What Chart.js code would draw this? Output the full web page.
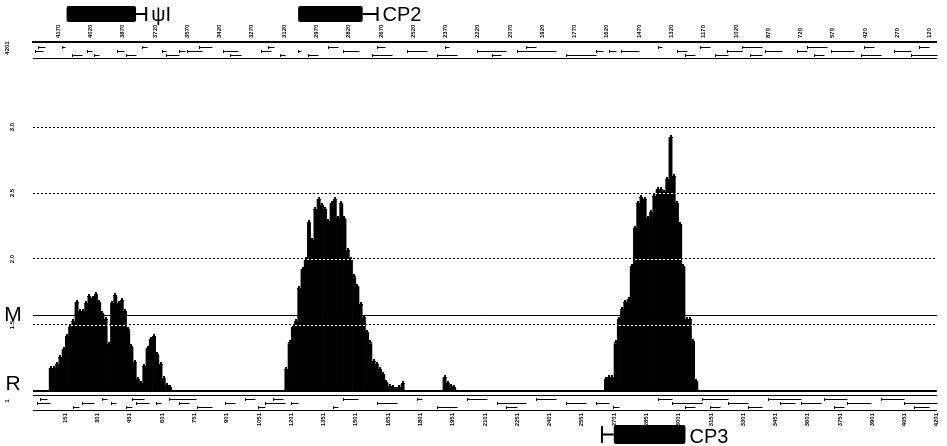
<!DOCTYPE html>
<html>
<head>
<meta charset="utf-8">
<script src="https://cdn.jsdelivr.net/npm/chart.js@4"></script>
<style>
  body { margin: 0; background: #fff; }
  #wrap { width: 947px; height: 446px; position: relative; }
</style>
</head>
<body>
<div id="wrap"><canvas id="myChart"></canvas></div>
<script>
// genome coordinates (nt) and bin size of the coverage histogram
const genomeStart = 1;
const genomeEnd = 4201;
const binSize = 15;

// coverage values per bin, one array per peak, with the bin where each peak starts
const peakStartBins = [5, 78, 127, 177];
const peakA = [1.17, 1.17, 1.20, 1.25, 1.31, 1.41, 1.48, 1.52, 1.67, 1.60, 1.60, 1.66, 1.71, 1.70, 1.73, 1.67,
    1.58, 1.54, 1.35, 1.66, 1.72, 1.66, 1.68, 1.60, 1.46, 1.33, 1.21, 1.08, 1.05, 1.18, 1.32, 1.39, 1.41,
    1.27, 1.20, 1.09, 1.04, 1.02];
const peakB = [1.16, 1.36, 1.48, 1.52, 1.77, 1.92, 1.99, 2.27, 2.14, 2.37, 2.45, 2.40, 2.37, 2.28, 2.42, 2.45,
    2.30, 2.42, 2.30, 2.06, 1.99, 1.86, 1.79, 1.65, 1.55, 1.44, 1.36, 1.22, 1.20, 1.16, 1.12, 1.06, 1.03,
    1.02, 1.01, 1.02, 1.05];
const peakC = [1.10, 1.05, 1.03, 1.02];
const peakD = [1.08, 1.10, 1.10, 1.36, 1.54, 1.61, 1.67, 1.69, 1.94, 2.23, 2.42, 2.46, 2.45, 2.30, 2.35, 2.47,
    2.52, 2.52, 2.50, 2.60, 2.92, 2.62, 2.42, 2.26, 1.94, 1.54, 1.54, 1.37, 1.07];

// reference levels
const gridLevels = [1.5, 2.0, 2.5, 3.0];
const gridLabels = ['1.5', '2.0', '2.5', '3.0'];
const levelM = 1.576;
const levelR = 1.0;

// tick labels: bottom strand numbering and the reverse numbering on top
const bottomTicks = [151, 301, 451, 601, 751, 901, 1051, 1201, 1351, 1501, 1651, 1801, 1951, 2101,
    2251, 2401, 2551, 2701, 2851, 3001, 3151, 3301, 3451, 3601, 3751, 3901, 4051, 4201];
const topTickLabels = ['4170', '4020', '3870', '3720', '3570', '3420', '3270', '3120', '2970', '2820',
    '2670', '2520', '2370', '2220', '2070', '1920', '1770', '1620', '1470', '1320', '1170', '1020',
    '870', '720', '570', '420', '270', '120'];

// open reading frames in the two strand tracks (start nt, end nt, row)
const topOrfStart = [10, 23, 138, 180, 254, 286, 392, 434, 508, 600, 618, 678, 715, 771, 886, 918, 1061, 1094,
    1149, 1232, 1278, 1371, 1440, 1578, 1601, 1740, 1878, 1915, 2063, 2132, 2248, 2294, 2478, 2617, 2677,
    2732, 2907, 2995, 3032, 3101, 3170, 3226, 3295, 3332, 3401, 3553, 3600, 3632, 3710, 3849, 3863, 4001,
    4080, 4117];
const topOrfEnd = [46, 55, 152, 231, 277, 309, 425, 480, 531, 618, 678, 706, 785, 831, 955, 969, 1108, 1121,
    1172, 1246, 1325, 1417, 1518, 1671, 1638, 1832, 1971, 1934, 2201, 2178, 2432, 2340, 2617, 2649, 2709,
    2815, 2926, 3041, 3078, 3147, 3230, 3295, 3387, 3387, 3480, 3600, 3692, 3678, 3816, 3941, 3909, 4080,
    4200, 4163];
const topOrfRow = [1, 0, 0, 2, 1, 2, 1, 2, 0, 1, 2, 1, 1, 0, 1, 2, 1, 0, 2, 1, 2, 0, 1, 2, 0, 1, 2, 0, 1, 2,
    1, 0, 2, 1, 1, 1, 0, 1, 2, 0, 2, 1, 0, 2, 1, 1, 0, 2, 1, 2, 0, 1, 2, 0];

const bottomOrfStart = [18, 32, 185, 231, 323, 365, 434, 462, 480, 572, 632, 678, 761, 895, 988, 1048, 1080,
    1117, 1200, 1394, 1440, 1601, 1786, 1878, 2017, 2155, 2201, 2340, 2478, 2617, 2695, 2907, 2972, 3032,
    3111, 3147, 3230, 3323, 3415, 3471, 3572, 3678, 3724, 3784, 3941, 4047, 4093];
const bottomOrfEnd = [78, 65, 217, 286, 346, 388, 462, 517, 540, 595, 757, 725, 831, 941, 1034, 1080, 1172,
    1163, 1232, 1417, 1509, 1694, 1809, 1971, 2109, 2294, 2248, 2432, 2571, 2677, 2723, 2972, 3111, 3078,
    3230, 3193, 3323, 3387, 3572, 3540, 3664, 3784, 3770, 3895, 4047, 4200, 4163];
const bottomOrfRow = [1, 0, 2, 1, 0, 1, 2, 0, 1, 1, 0, 1, 2, 1, 0, 2, 1, 0, 1, 2, 0, 1, 0, 2, 0, 1, 2, 0, 1,
    1, 2, 0, 1, 2, 0, 2, 1, 2, 0, 1, 1, 0, 2, 1, 0, 1, 2];

// gene annotations (box start/end, end cap, label, which track)
const geneNames = ['\u03C8I', 'CP2', 'CP3'];
const geneBoxStart = [157, 1233, 2700];
const geneBoxEnd = [480, 1533, 3033];
const geneCap = [527, 1602, 2645];
const geneSide = ['top', 'top', 'bottom'];

// build bar points from the peak arrays
const peaks = [peakA, peakB, peakC, peakD];
const coverage = [];
peaks.forEach(function (values, p) {
    values.forEach(function (v, k) {
        const bin = peakStartBins[p] + k;
        coverage.push({ x: genomeStart + bin * binSize + binSize / 2, y: v });
    });
});

const FONT = '"Liberation Sans", Arial, sans-serif';

// draws the strand tracks, reference lines, gene boxes and side labels
const decorations = {
    id: 'decorations',
    afterDatasetsDraw: function (chart) {
        const ctx = chart.ctx;
        const xs = chart.scales.x;
        const ys = chart.scales.y;
        const area = chart.chartArea;
        ctx.save();

        // small caps on top of each bar, like the original plot
        const meta = chart.getDatasetMeta(0);
        ctx.fillStyle = '#000';
        meta.data.forEach(function (bar) {
            ctx.fillRect(Math.round(bar.x) - 2, Math.round(bar.y) - 1, 4, 1);
            ctx.fillRect(Math.round(bar.x) - 1, Math.round(bar.y) - 3, 2, 2);
        });

        // white dots where the dotted grid crosses the bars
        ctx.strokeStyle = '#fff';
        ctx.lineWidth = 1;
        ctx.setLineDash([2, 2]);
        ctx.lineDashOffset = 2;
        gridLevels.forEach(function (v) {
            const y = Math.round(ys.getPixelForValue(v)) + 0.5;
            ctx.beginPath();
            ctx.moveTo(area.left, y);
            ctx.lineTo(area.right, y);
            ctx.stroke();
        });
        ctx.setLineDash([]);

        // M and R lines
        ctx.strokeStyle = '#000';
        const yM = Math.round(ys.getPixelForValue(levelM)) + 0.5;
        ctx.lineWidth = 1;
        ctx.beginPath();
        ctx.moveTo(area.left, yM);
        ctx.lineTo(area.right, yM);
        ctx.stroke();
        const yR = Math.round(ys.getPixelForValue(levelR));
        ctx.lineWidth = 2;
        ctx.beginPath();
        ctx.moveTo(area.left, yR);
        ctx.lineTo(area.right, yR);
        ctx.stroke();

        // track frame lines
        ctx.lineWidth = 1;
        const topTrackLow = area.top + 16.5;
        const bottomTrackHigh = yR + 4.5;
        ctx.beginPath();
        ctx.moveTo(area.left, topTrackLow);
        ctx.lineTo(area.right, topTrackLow);
        ctx.moveTo(area.left, bottomTrackHigh);
        ctx.lineTo(area.right, bottomTrackHigh);
        ctx.stroke();

        // ORF dashes
        function drawOrfs(starts, ends, rows, baseY) {
            for (let i = 0; i < starts.length; i++) {
                const x0 = Math.round(xs.getPixelForValue(starts[i])) + 0.5;
                const x1 = Math.round(xs.getPixelForValue(ends[i])) + 0.5;
                const y = baseY + rows[i] * 4;
                ctx.beginPath();
                ctx.moveTo(x0, y);
                ctx.lineTo(x1, y);
                ctx.moveTo(x0, y - 1.5);
                ctx.lineTo(x0, y + 1.5);
                ctx.stroke();
            }
        }
        drawOrfs(topOrfStart, topOrfEnd, topOrfRow, area.top + 5.5);
        drawOrfs(bottomOrfStart, bottomOrfEnd, bottomOrfRow, yR + 8.5);

        // gene boxes
        ctx.fillStyle = '#000';
        ctx.textBaseline = 'alphabetic';
        for (let i = 0; i < geneNames.length; i++) {
            const b0 = xs.getPixelForValue(geneBoxStart[i]);
            const b1 = xs.getPixelForValue(geneBoxEnd[i]);
            const c = xs.getPixelForValue(geneCap[i]);
            const top = geneSide[i] === 'top' ? 6 : 425;
            const h = geneSide[i] === 'top' ? 16 : 19;
            const mid = top + h / 2;
            ctx.beginPath();
            ctx.roundRect(b0, top, b1 - b0, h, 2);
            ctx.fill();
            ctx.lineWidth = 2;
            ctx.beginPath();
            ctx.moveTo(c < b0 ? c : b1, mid);
            ctx.lineTo(c < b0 ? b0 : c, mid);
            ctx.moveTo(c, top + 1);
            ctx.lineTo(c, top + h - 1);
            ctx.stroke();
            ctx.font = '20px ' + FONT;
            ctx.textAlign = 'left';
            const lx = c > b1 ? c + 5 : b1 + 4;
            ctx.fillText(geneNames[i], lx, top + h - 1);
        }

        // left side labels
        ctx.font = 'bold 6px ' + FONT;
        ctx.textAlign = 'center';
        ctx.textBaseline = 'middle';
        function vText(txt, x, y) {
            ctx.save();
            ctx.translate(x, y);
            ctx.rotate(-Math.PI / 2);
            ctx.fillText(txt, 0, 0);
            ctx.restore();
        }
        gridLevels.forEach(function (v, i) {
            let y = ys.getPixelForValue(v);
            vText(gridLabels[i], 12, y);
        });
        vText('4201', 7, area.top + 6);
        vText('1', 7, yR + 10);
        ctx.font = '21px ' + FONT;
        ctx.textBaseline = 'alphabetic';
        ctx.fillText('M', 13, yM + 5);
        ctx.fillText('R', 13, yR - 1);
        ctx.restore();
    }
};

const ctx = document.getElementById('myChart').getContext('2d');
const myChart = new Chart(ctx, {
    type: 'bar',
    data: {
        datasets: [{
            label: 'coverage',
            data: coverage,
            base: levelR,
            backgroundColor: '#000',
            borderWidth: 0,
            barPercentage: 1,
            categoryPercentage: 1
        }]
    },
    options: {
        responsive: true,
        maintainAspectRatio: false,
        animation: false,
        layout: { padding: { left: 0, right: 4, top: 0, bottom: 0 } },
        plugins: {
            legend: { display: false },
            tooltip: { enabled: false }
        },
        scales: {
            x: {
                type: 'linear',
                position: 'bottom',
                offset: false,
                min: genomeStart,
                max: genomeEnd,
                afterBuildTicks: function (scale) {
                    scale.ticks = bottomTicks.map(function (v) { return { value: v }; });
                },
                afterFit: function (scale) { scale.height = 36; },
                grid: { display: false, drawTicks: false, offset: false },
                border: { display: true, color: '#000', width: 1 },
                ticks: {
                    autoSkip: false,
                    minRotation: 90,
                    maxRotation: 90,
                    padding: 3,
                    color: '#000',
                    font: { size: 6, weight: 'bold', family: FONT },
                    callback: function (value) { return String(value); }
                }
            },
            x2: {
                type: 'linear',
                position: 'top',
                offset: false,
                min: genomeStart,
                max: genomeEnd,
                afterBuildTicks: function (scale) {
                    scale.ticks = bottomTicks.map(function (v) { return { value: v }; });
                },
                afterFit: function (scale) { scale.height = 42; },
                grid: { display: false, drawTicks: false, offset: false },
                border: { display: true, color: '#000', width: 2 },
                ticks: {
                    autoSkip: false,
                    minRotation: 90,
                    maxRotation: 90,
                    padding: 4,
                    color: '#000',
                    font: { size: 6, weight: 'bold', family: FONT },
                    callback: function (value, index) { return topTickLabels[index]; }
                }
            },
            y: {
                type: 'linear',
                min: 0.856,
                max: 3.644,
                afterBuildTicks: function (scale) {
                    scale.ticks = gridLevels.map(function (v) { return { value: v }; });
                },
                afterFit: function (scale) { scale.width = 33; },
                grid: { display: true, color: '#000', lineWidth: 1, drawTicks: false },
                border: { display: false, dash: [2, 2] },
                ticks: { display: false }
            }
        }
    },
    plugins: [decorations]
});
</script>
</body>
</html>
